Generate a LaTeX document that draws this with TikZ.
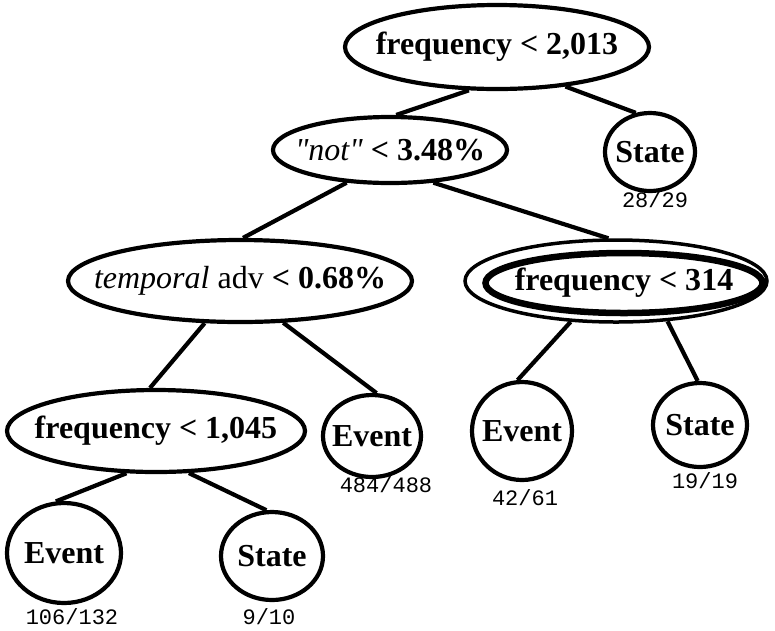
\documentclass[tikz,border=0pt]{standalone}
\usepackage{fontspec}
\setmainfont{Liberation Serif}
\setmonofont{Liberation Mono}
\newfontfamily\quotefont{Liberation Serif}[Ligatures=TeXOff]
\usetikzlibrary{shapes.geometric,positioning}

% text that does not widen the ellipse round it
\newcommand{\flattext}[1]{\makebox[0pt]{#1}}

\begin{document}
\begin{tikzpicture}[x=1pt,y=-1pt,-,line width=4.2pt,
    test node/.style={ellipse,draw,inner sep=0pt,font=\fontsize{32}{36}\selectfont\bfseries},
    count node/.style={inner sep=0pt,anchor=base,font=\fontsize{22}{26}\selectfont\ttfamily}]

    \useasboundingbox (0,0) rectangle (775,630);

    \node[test node, minimum width=304pt, minimum height=84pt] (1) at (497,47) {\flattext{frequency < 2,013}};
    \node[test node, minimum width=234pt, minimum height=66pt] (2) at (390,150) {\flattext{{\quotefont\mdseries\itshape "not"} < 3.48\%}};
    \node[test node, minimum width=90pt, minimum height=78pt] (3) at (650,152) {\flattext{State}};
    \node[test node, minimum width=344pt, minimum height=82pt] (4) at (240,281) {\flattext{{\mdseries\itshape temporal} {\mdseries adv} < 0.68\%}};
    \node[test node, line width=3.5pt, minimum width=302pt, minimum height=82pt] (5) at (616,281) {};
    \node[test node, line width=6.5pt, minimum width=277pt, minimum height=60pt] (12) at (624,283) {\flattext{frequency < 314}};
    \node[test node, minimum width=298pt, minimum height=82pt] (6) at (156,431) {\flattext{frequency < 1,045}};
    \node[test node, minimum width=98pt, minimum height=82pt] (7) at (372,436) {\flattext{Event}};
    \node[test node, minimum width=100pt, minimum height=98pt] (8) at (522,431) {\flattext{Event}};
    \node[test node, minimum width=94pt, minimum height=84pt] (9) at (700,425) {\flattext{State}};
    \node[test node, minimum width=114pt, minimum height=100pt] (10) at (64,553) {\flattext{Event}};
    \node[test node, minimum width=102pt, minimum height=88pt] (11) at (272,556) {\flattext{State}};

    \node[count node] (n3) at (655,207) {28/29};
    \node[count node] (n7) at (386,492) {484/488};
    \node[count node] (n8) at (525,505) {42/61};
    \node[count node] (n9) at (705,488) {19/19};
    \node[count node] (n10) at (72,624) {106/132};
    \node[count node] (n11) at (269,624) {9/10};

    \draw[-] (1.237) to (2.80);
    \draw[-] (1.330) to (3.110);
    \draw[-] (2.217) to (4.86);
    \draw[-] (2.323) to (5.100);
    \draw[-] (4.230) to (6.98);
    \draw[-] (4.316) to (7.84);
    \draw[-] (5.222) to (8.95);
    \draw[-] (5.322) to (9.93);
    \draw[-] (6.235) to (10.99);
    \draw[-] (6.308) to (11.97);

\end{tikzpicture}
\end{document}
